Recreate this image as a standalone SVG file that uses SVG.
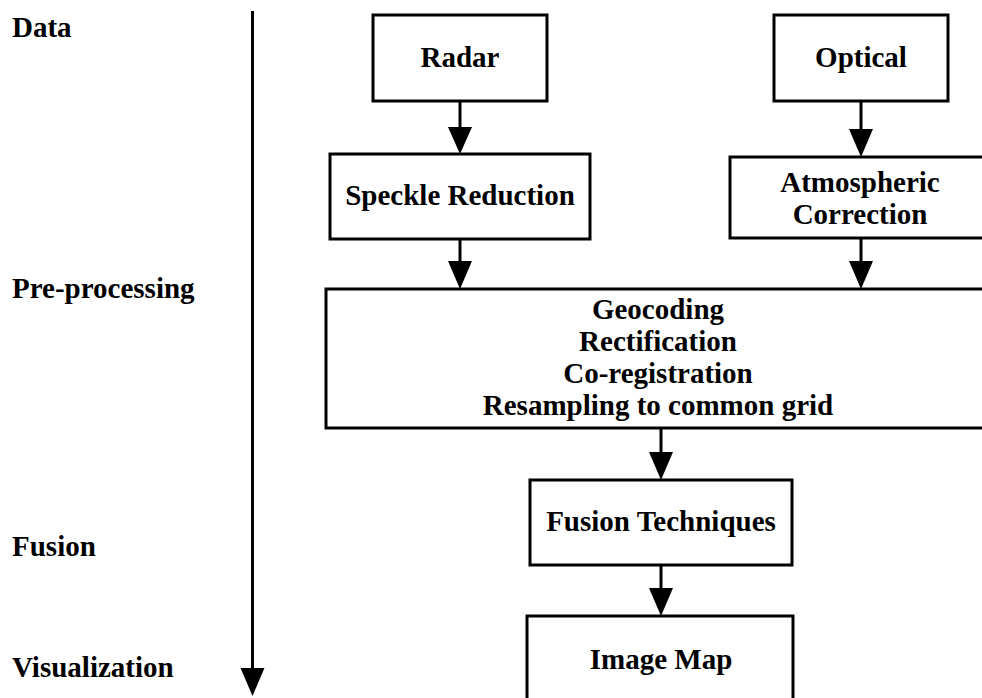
<svg xmlns="http://www.w3.org/2000/svg" width="982" height="698" viewBox="0 0 982 698">
  <style>
    text { font-family: "Liberation Serif", "Times New Roman", serif; font-weight: bold; font-size: 29px; fill: #000; }
    .c { text-anchor: middle; }
    .box { fill: #fff; stroke: #000; stroke-width: 3; }
    .wire { stroke: #000; stroke-width: 3; fill: none; }
    .tip { fill: #000; }
  </style>
  <rect width="982" height="698" fill="#fff"/>

  <!-- stage labels along the timeline -->
  <g id="stages">
    <text x="12" y="37">Data</text>
    <text x="12" y="298">Pre-processing</text>
    <text x="12" y="556">Fusion</text>
    <text x="12" y="677">Visualization</text>
  </g>

  <!-- connectors: stems plus filled triangular heads -->
  <g id="connectors">
    <line class="wire" x1="252.5" y1="11" x2="252.5" y2="670"/>
    <path class="tip" d="M240.5,668 L264.5,668 L252.5,696 Z"/>
    <line class="wire" x1="460" y1="101" x2="460" y2="128"/>
    <path class="tip" d="M448,127 L472,127 L460,154 Z"/>
    <line class="wire" x1="861" y1="101" x2="861" y2="130"/>
    <path class="tip" d="M849,129 L873,129 L861,157 Z"/>
    <line class="wire" x1="460" y1="239" x2="460" y2="263"/>
    <path class="tip" d="M448,261 L472,261 L460,289 Z"/>
    <line class="wire" x1="861" y1="238" x2="861" y2="263"/>
    <path class="tip" d="M849,261 L873,261 L861,289 Z"/>
    <line class="wire" x1="661" y1="428" x2="661" y2="454"/>
    <path class="tip" d="M649,452 L673,452 L661,480 Z"/>
    <line class="wire" x1="661" y1="565" x2="661" y2="590"/>
    <path class="tip" d="M649,588 L673,588 L661,616 Z"/>
  </g>

  <g id="radar">
    <rect class="box" x="373" y="15" width="174" height="86"/>
    <text class="c" x="460" y="67">Radar</text>
  </g>
  <g id="optical">
    <rect class="box" x="774" y="15" width="174" height="86"/>
    <text class="c" x="861" y="67">Optical</text>
  </g>
  <g id="speckle">
    <rect class="box" x="330" y="154" width="260" height="85"/>
    <text class="c" x="460" y="205">Speckle Reduction</text>
  </g>
  <g id="atmospheric">
    <rect class="box" x="730" y="157" width="265" height="81"/>
    <text class="c" x="860" y="192">Atmospheric</text>
    <text class="c" x="860" y="224">Correction</text>
  </g>
  <g id="geometric">
    <rect class="box" x="326" y="289" width="669" height="139"/>
    <text class="c" x="658" y="319">Geocoding</text>
    <text class="c" x="658" y="351">Rectification</text>
    <text class="c" x="658" y="383">Co-registration</text>
    <text class="c" x="658" y="415">Resampling to common grid</text>
  </g>
  <g id="fusion">
    <rect class="box" x="530" y="480" width="262" height="85"/>
    <text class="c" x="661" y="531">Fusion Techniques</text>
  </g>
  <g id="imagemap">
    <rect class="box" x="527" y="616" width="266" height="110"/>
    <text class="c" x="661" y="669">Image Map</text>
  </g>
</svg>
